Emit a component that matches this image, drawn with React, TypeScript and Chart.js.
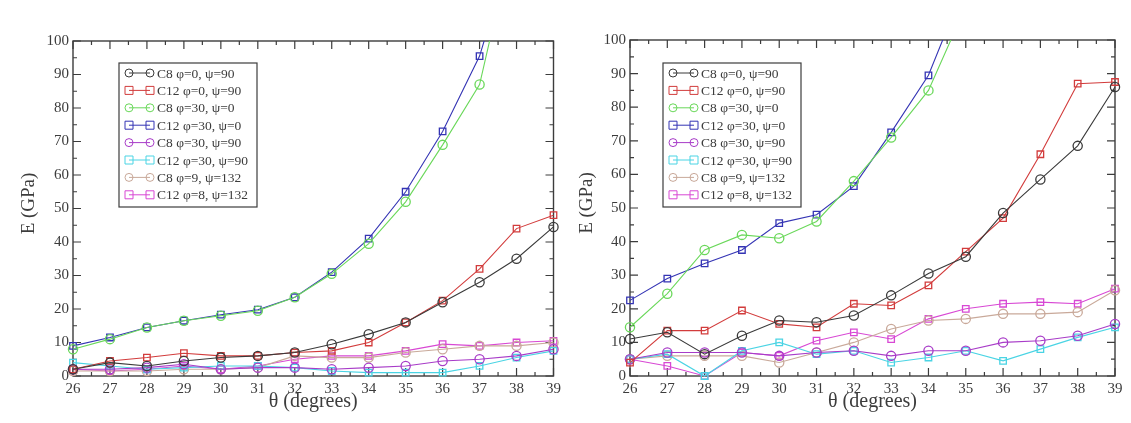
import { useEffect, useRef } from "react";
import { Chart, registerables } from "chart.js";

Chart.register(...registerables);

// Tilt angle θ (degrees) and axis ticks
const theta = [26, 27, 28, 29, 30, 31, 32, 33, 34, 35, 36, 37, 38, 39];
const xTicks = [26, 27, 28, 29, 30, 31, 32, 33, 34, 35, 36, 37, 38, 39];
const yTicks = [0, 10, 20, 30, 40, 50, 60, 70, 80, 90, 100];

const seriesLabels = [
  "C8 φ=0, ψ=90",
  "C12 φ=0, ψ=90",
  "C8 φ=30, ψ=0",
  "C12 φ=30, ψ=0",
  "C8 φ=30, ψ=90",
  "C12 φ=30, ψ=90",
  "C8 φ=9, ψ=132",
  "C12 φ=8, ψ=132",
];

// Young's modulus E (GPa), left panel
const leftC8Phi0Psi90 = [2, 4, 3, 4.5, 5.5, 6, 7, 9.5, 12.5, 16, 22, 28, 35, 44.5];
const leftC12Phi0Psi90 = [2, 4.5, 5.5, 6.8, 6, 6, 7, 7.5, 10, 16, 22.5, 32, 44, 48];
const leftC8Phi30Psi0 = [8, 11, 14.5, 16.5, 18, 19.5, 23.5, 30.5, 39.5, 52, 69, 87, 135, 185];
const leftC12Phi30Psi0 = [9, 11.5, 14.5, 16.5, 18.3, 19.8, 23.5, 31, 41, 55, 73, 95.5, 132, 180];
const leftC8Phi30Psi90 = [2, 2, 2.5, 3.5, 2, 2.5, 2.5, 2, 2.5, 3, 4.5, 5, 6, 8];
const leftC12Phi30Psi90 = [4, 3, 2, 2.5, 3, 3, 2.5, 1.5, 1, 1, 1, 3, 5.5, 7.5];
const leftC8Phi9Psi132 = [1.5, 1.5, 1.5, 2, 2, 2.5, 6, 5.5, 5.5, 7, 8, 9, 9, 10];
const leftC12Phi8Psi132 = [2, 1.5, 2, 3, 2, 3, 5, 6, 6, 7.5, 9.5, 9, 10, 10.5];

// Young's modulus E (GPa), right panel
const rightC8Phi0Psi90 = [11, 13, 6.5, 12, 16.5, 16, 18, 24, 30.5, 35.5, 48.5, 58.5, 68.5, 86];
const rightC12Phi0Psi90 = [4, 13.5, 13.5, 19.5, 15.5, 14.5, 21.5, 21, 27, 37, 47, 66, 87, 87.5];
const rightC8Phi30Psi0 = [14.5, 24.5, 37.5, 42, 41, 46, 58, 71, 85, 110, 140, 175, 215, 260];
const rightC12Phi30Psi0 = [22.5, 29, 33.5, 37.5, 45.5, 48, 56.5, 72.5, 89.5, 117, 150, 190, 240, 300];
const rightC8Phi30Psi90 = [5, 7, 7, 7, 6, 7, 7.5, 6, 7.5, 7.5, 10, 10.5, 12, 15.5];
const rightC12Phi30Psi90 = [5, 6.5, 0, 7.5, 10, 6.5, 7.5, 4, 5.5, 7.5, 4.5, 8, 11.5, 14.5];
const rightC8Phi9Psi132 = [5, 6, 6, 6, 4, 7, 10, 14, 16.5, 17, 18.5, 18.5, 19, 25.5];
const rightC12Phi8Psi132 = [5, 3, 0, 7, 6, 10.5, 13, 11, 17, 20, 21.5, 22, 21.5, 26];

const leftSeries = [
  leftC8Phi0Psi90,
  leftC12Phi0Psi90,
  leftC8Phi30Psi0,
  leftC12Phi30Psi0,
  leftC8Phi30Psi90,
  leftC12Phi30Psi90,
  leftC8Phi9Psi132,
  leftC12Phi8Psi132,
];
const rightSeries = [
  rightC8Phi0Psi90,
  rightC12Phi0Psi90,
  rightC8Phi30Psi0,
  rightC12Phi30Psi0,
  rightC8Phi30Psi90,
  rightC12Phi30Psi90,
  rightC8Phi9Psi132,
  rightC12Phi8Psi132,
];

const seriesColors = [
  "#3a3a3a",
  "#d23c3c",
  "#6ad85a",
  "#3434b4",
  "#a83cc8",
  "#4ad4e4",
  "#c9a99a",
  "#d848d4",
];
const seriesShapes = ["circle", "rect", "circle", "rect", "circle", "rect", "circle", "rect"];

const SERIF_NAME = "Liberation Serif";
const SERIF = `"Liberation Serif", "DejaVu Serif", serif`;
const INK = "#3c3c3c";

type PanelLayout = {
  width: number;
  areaLeft: number;
  areaRight: number;
  areaTop: number;
  areaBottom: number;
  yTitleX: number;
  xTitleY: number;
  legendDx: number;
  legendDy: number;
};

function drawMarker(ctx: CanvasRenderingContext2D, shape: string, x: number, y: number, r: number) {
  ctx.beginPath();
  if (shape === "circle") {
    ctx.arc(x, y, r, 0, Math.PI * 2);
  } else {
    ctx.rect(x - r, y - r, r * 2, r * 2);
  }
  ctx.stroke();
}

function framePlugin(layout: PanelLayout) {
  return {
    id: "graceFrame",
    beforeDatasetsDraw(chart: any) {
      const { ctx, chartArea } = chart;
      const xs = chart.scales.x;
      const ys = chart.scales.y;
      ctx.save();
      ctx.strokeStyle = INK;
      ctx.lineWidth = 1.4;
      ctx.strokeRect(chartArea.left, chartArea.top, chartArea.right - chartArea.left, chartArea.bottom - chartArea.top);
      ctx.lineWidth = 1.2;
      ctx.beginPath();
      for (let v = xTicks[0]; v <= xTicks[xTicks.length - 1] + 1e-9; v += 0.5) {
        const len = Number.isInteger(v) ? 8 : 4;
        const px = xs.getPixelForValue(v);
        ctx.moveTo(px, chartArea.bottom);
        ctx.lineTo(px, chartArea.bottom - len);
        ctx.moveTo(px, chartArea.top);
        ctx.lineTo(px, chartArea.top + len);
      }
      for (let v = yTicks[0]; v <= yTicks[yTicks.length - 1] + 1e-9; v += 5) {
        const len = v % 10 === 0 ? 8 : 4;
        const py = ys.getPixelForValue(v);
        ctx.moveTo(chartArea.left, py);
        ctx.lineTo(chartArea.left + len, py);
        ctx.moveTo(chartArea.right, py);
        ctx.lineTo(chartArea.right - len, py);
      }
      ctx.stroke();

      // axis titles
      ctx.fillStyle = INK;
      ctx.textAlign = "center";
      ctx.textBaseline = "middle";
      ctx.font = `20px ${SERIF}`;
      ctx.fillText("θ (degrees)", (chartArea.left + chartArea.right) / 2, layout.xTitleY);
      ctx.save();
      ctx.translate(layout.yTitleX, (chartArea.top + chartArea.bottom) / 2 - 5);
      ctx.rotate(-Math.PI / 2);
      ctx.font = `19px ${SERIF}`;
      ctx.fillText("E (GPa)", 0, 0);
      ctx.restore();
      ctx.restore();
    },
    afterDatasetsDraw(chart: any) {
      const { ctx, chartArea } = chart;
      const bx = chartArea.left + layout.legendDx;
      const by = chartArea.top + layout.legendDy;
      const bw = 138;
      const bh = 144;
      ctx.save();
      ctx.fillStyle = "#ffffff";
      ctx.fillRect(bx, by, bw, bh);
      ctx.strokeStyle = INK;
      ctx.lineWidth = 1.2;
      ctx.strokeRect(bx, by, bw, bh);
      chart.data.datasets.forEach((ds: any, i: number) => {
        const ry = by + 10 + i * 17.4;
        ctx.strokeStyle = ds.borderColor;
        ctx.lineWidth = 1;
        ctx.beginPath();
        ctx.moveTo(bx + 10, ry);
        ctx.lineTo(bx + 31, ry);
        ctx.stroke();
        drawMarker(ctx, ds.pointStyle, bx + 10, ry, 4);
        drawMarker(ctx, ds.pointStyle, bx + 31, ry, 4);
        ctx.fillStyle = INK;
        ctx.font = `13.5px ${SERIF}`;
        ctx.textAlign = "left";
        ctx.textBaseline = "middle";
        ctx.fillText(ds.label, bx + 38, ry + 1);
      });
      ctx.restore();
    },
  };
}

function Panel({ series, layout }: { series: number[][]; layout: PanelLayout }) {
  const ref = useRef<HTMLCanvasElement | null>(null);

  useEffect(() => {
    if (!ref.current) return;
    const datasets = series.map((vals, i) => ({
      label: seriesLabels[i],
      data: theta.map((t, j) => ({ x: t, y: vals[j] })),
      borderColor: seriesColors[i],
      backgroundColor: "rgba(0,0,0,0)",
      borderWidth: 1.1,
      pointStyle: seriesShapes[i],
      pointRadius: 4.6,
      pointBorderWidth: 1.3,
      pointBorderColor: seriesColors[i],
      pointBackgroundColor: "rgba(0,0,0,0)",
      tension: 0,
      clip: { left: 10, right: 10, top: 0, bottom: 10 },
    }));

    const tickFont = { family: SERIF, size: 15 };

    const chart = new Chart(ref.current, {
      type: "line",
      data: { datasets },
      options: {
        animation: false,
        responsive: false,
        devicePixelRatio: 1,
        layout: {
          padding: {
            left: 0,
            top: layout.areaTop,
            right: layout.width - layout.areaRight,
            bottom: 0,
          },
        },
        plugins: { legend: { display: false }, tooltip: { enabled: false } },
        scales: {
          x: {
            type: "linear",
            min: xTicks[0],
            max: xTicks[xTicks.length - 1],
            afterBuildTicks: (scale: any) => {
              scale.ticks = xTicks.map((v) => ({ value: v }));
            },
            afterFit: (scale: any) => {
              scale.height = 423 - layout.areaBottom;
            },
            grid: { display: false, drawTicks: false },
            border: { display: false },
            ticks: {
              padding: 4,
              color: INK,
              font: tickFont,
              maxRotation: 0,
              autoSkip: false,
            },
          },
          y: {
            type: "linear",
            min: yTicks[0],
            max: yTicks[yTicks.length - 1],
            afterBuildTicks: (scale: any) => {
              scale.ticks = yTicks.map((v) => ({ value: v }));
            },
            afterFit: (scale: any) => {
              scale.width = layout.areaLeft;
            },
            grid: { display: false, drawTicks: false },
            border: { display: false },
            ticks: {
              padding: 4,
              color: INK,
              font: tickFont,
              autoSkip: false,
            },
          },
        },
      },
      plugins: [framePlugin(layout)],
    });

    // redraw once the serif face is available to the canvas
    let alive = true;
    const fonts: any = (document as any).fonts;
    if (fonts && fonts.load) {
      Promise.all([
        fonts.load(`15px "${SERIF_NAME}"`),
        fonts.load(`20px "${SERIF_NAME}"`),
      ])
        .then(() => {
          if (alive) chart.update("none");
        })
        .catch(() => {});
    }
    return () => {
      alive = false;
      chart.destroy();
    };
  }, [series, layout]);

  return (
    <canvas
      ref={ref}
      width={layout.width}
      height={423}
      style={{ display: "block", width: layout.width, height: 423 }}
    />
  );
}

const leftLayout: PanelLayout = {
  width: 565,
  areaLeft: 73,
  areaRight: 557,
  areaTop: 41,
  areaBottom: 376,
  yTitleX: 29,
  xTitleY: 402,
  legendDx: 46,
  legendDy: 22,
};

const rightLayout: PanelLayout = {
  width: 566,
  areaLeft: 65,
  areaRight: 550,
  areaTop: 40,
  areaBottom: 376,
  yTitleX: 22,
  xTitleY: 402,
  legendDx: 33,
  legendDy: 23,
};

export default function App() {
  return (
    <div
      style={{
        position: "absolute",
        left: 0,
        top: 0,
        width: 1131,
        height: 423,
        background: "#ffffff",
        display: "flex",
      }}
    >
      <Panel series={leftSeries} layout={leftLayout} />
      <Panel series={rightSeries} layout={rightLayout} />
    </div>
  );
}
